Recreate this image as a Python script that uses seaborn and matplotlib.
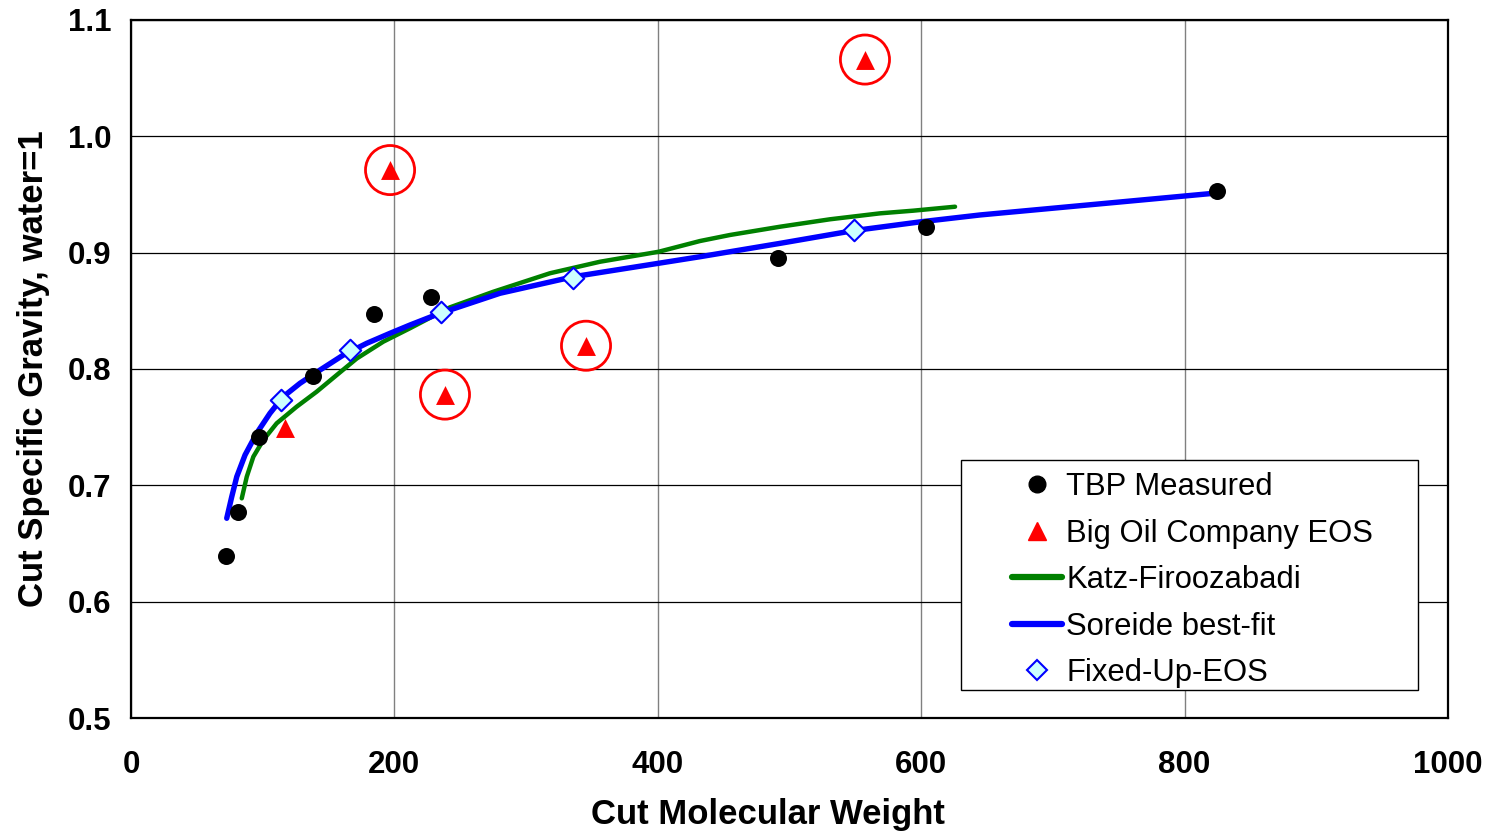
import matplotlib
matplotlib.use("Agg")
import matplotlib.pyplot as plt
import seaborn as sns
import pandas as pd
from matplotlib.lines import Line2D
from matplotlib.patches import Rectangle

# ---- data ----
tbp_mw = [72.1, 81.2, 97.2, 138.2, 184.5, 227.8, 491.3, 603.6, 824.6]
tbp_sg = [0.639, 0.677, 0.7415, 0.794, 0.847, 0.862, 0.895, 0.922, 0.953]

bigoil_mw = [116.9, 196.7, 238.4, 345.5, 557.3]
bigoil_sg = [0.749, 0.971, 0.778, 0.820, 1.066]
circled_idx = [1, 2, 3, 4]

fixed_mw = [113.9, 166.3, 235.4, 335.4, 549.1]
fixed_sg = [0.773, 0.816, 0.849, 0.878, 0.9195]

katz_mw = [84.1, 87.9, 92.9, 100.5, 110.6, 125.8, 141.0, 156.2, 171.4, 191.6,
           211.8, 242.2, 275.1, 318.1, 356.1, 400.7, 432.0, 454.8, 492.8, 530.8,
           568.7, 594.0, 625.7]
katz_sg = [0.6888, 0.7074, 0.7246, 0.7390, 0.7533, 0.7676, 0.7805, 0.7948, 0.8090,
           0.8235, 0.8350, 0.8530, 0.8664, 0.8823, 0.8922, 0.9008, 0.9100, 0.9152,
           0.9223, 0.9287, 0.9338, 0.9361, 0.9395]

soreide_mw = [72.7, 76.5, 80.3, 86.6, 95.4, 105.5, 115.6, 128.3, 143.5, 161.2,
              179.0, 196.7, 211.8, 234.6, 280.2, 335.8, 400.7, 432.0, 492.8, 548.4,
              600.1, 644.6, 824.6]
soreide_sg = [0.6717, 0.6902, 0.7074, 0.7261, 0.7447, 0.7619, 0.7762, 0.7877, 0.7991,
              0.8120, 0.8221, 0.8307, 0.8378, 0.8479, 0.8651, 0.8793, 0.8909, 0.8965,
              0.9080, 0.9189, 0.9266, 0.9324, 0.9513]

x_ticks = [0, 200, 400, 600, 800, 1000]
y_ticks = [0.5, 0.6, 0.7, 0.8, 0.9, 1.0, 1.1]

# ---- style ----
sns.set_theme(style="white")
plt.rcParams["font.family"] = ["Liberation Sans", "DejaVu Sans"]
for k in ["text.color", "axes.labelcolor", "xtick.labelcolor", "ytick.labelcolor"]:
    plt.rcParams[k] = "black"

fig = plt.figure(figsize=(14.97, 8.31), dpi=100)
ax = fig.add_axes([131/1497, 1 - 718/831, (1448-131)/1497, (718-20)/831])

# grid
for xv in x_ticks:
    ax.axvline(xv, color="#808080", lw=1.0, zorder=0)
for yv in y_ticks:
    ax.axhline(yv, color="#000000", lw=0.9, zorder=0)

katz = pd.DataFrame({"mw": katz_mw, "sg": katz_sg})
sor = pd.DataFrame({"mw": soreide_mw, "sg": soreide_sg})
sns.lineplot(data=katz, x="mw", y="sg", ax=ax, color="#008000", lw=3.2,
             sort=False, estimator=None, zorder=2, legend=False,
             solid_capstyle="round", solid_joinstyle="round")
sns.lineplot(data=sor, x="mw", y="sg", ax=ax, color="#0000FF", lw=3.9,
             sort=False, estimator=None, zorder=3, legend=False,
             solid_capstyle="round", solid_joinstyle="round")

sns.scatterplot(x=tbp_mw, y=tbp_sg, ax=ax, color="black", s=150, marker="o",
                edgecolor="black", linewidth=0, zorder=4, legend=False)
sns.scatterplot(x=bigoil_mw, y=bigoil_sg, ax=ax, color="#FF0000", s=185, marker="^",
                edgecolor="#FF0000", linewidth=0, zorder=5, legend=False)
sns.scatterplot(x=[bigoil_mw[i] for i in circled_idx], y=[bigoil_sg[i] for i in circled_idx],
                ax=ax, s=1250, marker="o", facecolor="none", edgecolor="#FF0000",
                linewidth=2.0, zorder=5, legend=False)
sns.scatterplot(x=fixed_mw, y=fixed_sg, ax=ax, color="#CCFFFF", s=120, marker="D",
                edgecolor="#0000FF", linewidth=1.5, zorder=6, legend=False)

ax.set_xlim(0, 1000)
ax.set_ylim(0.5, 1.1)
ax.set_xticks(x_ticks)
ax.set_yticks(y_ticks)
ax.set_xticklabels([str(v) for v in x_ticks], fontsize=22.5, fontweight="bold")
ax.set_yticklabels([f"{v:.1f}" for v in y_ticks], fontsize=22.5, fontweight="bold")
ax.tick_params(axis="both", direction="out", length=6, width=1, color="#555555",
               pad=8)
ax.tick_params(axis="x", pad=17)
for sp in ax.spines.values():
    sp.set_visible(True)
    sp.set_color("black")
    sp.set_linewidth(1.6)

ax.set_xlabel("Cut Molecular Weight", fontsize=25, fontweight="bold", labelpad=13)
ax.xaxis.label.set_x(0.4833)
ax.set_ylabel("Cut Specific Gravity, water=1", fontsize=25, fontweight="bold", labelpad=13)

# legend frame
ax.add_patch(Rectangle((0.630, 0.0401), 0.347, 0.3295, transform=ax.transAxes,
                       facecolor="white", edgecolor="black", lw=1.0, zorder=9))

handles = [
    Line2D([], [], ls="none", marker="o", color="black", markersize=12),
    Line2D([], [], ls="none", marker="^", color="#FF0000", markersize=13),
    Line2D([], [], color="#008000", lw=4.5),
    Line2D([], [], color="#0000FF", lw=4.5),
    Line2D([], [], ls="none", marker="D", markerfacecolor="#CCFFFF",
           markeredgecolor="#0000FF", markeredgewidth=1.5, markersize=10),
]
labels = ["TBP Measured", "Big Oil Company EOS", "Katz-Firoozabadi",
          "Soreide best-fit", "Fixed-Up-EOS"]
leg = ax.legend(handles, labels, loc="upper left", bbox_to_anchor=(0.669, 0.352),
                fontsize=22.3, frameon=False, handlelength=1.6, handletextpad=0.15,
                labelspacing=0.53, borderpad=0, borderaxespad=0)
leg.set_zorder(10)

fig.savefig("out.png", dpi=100, facecolor="white")
